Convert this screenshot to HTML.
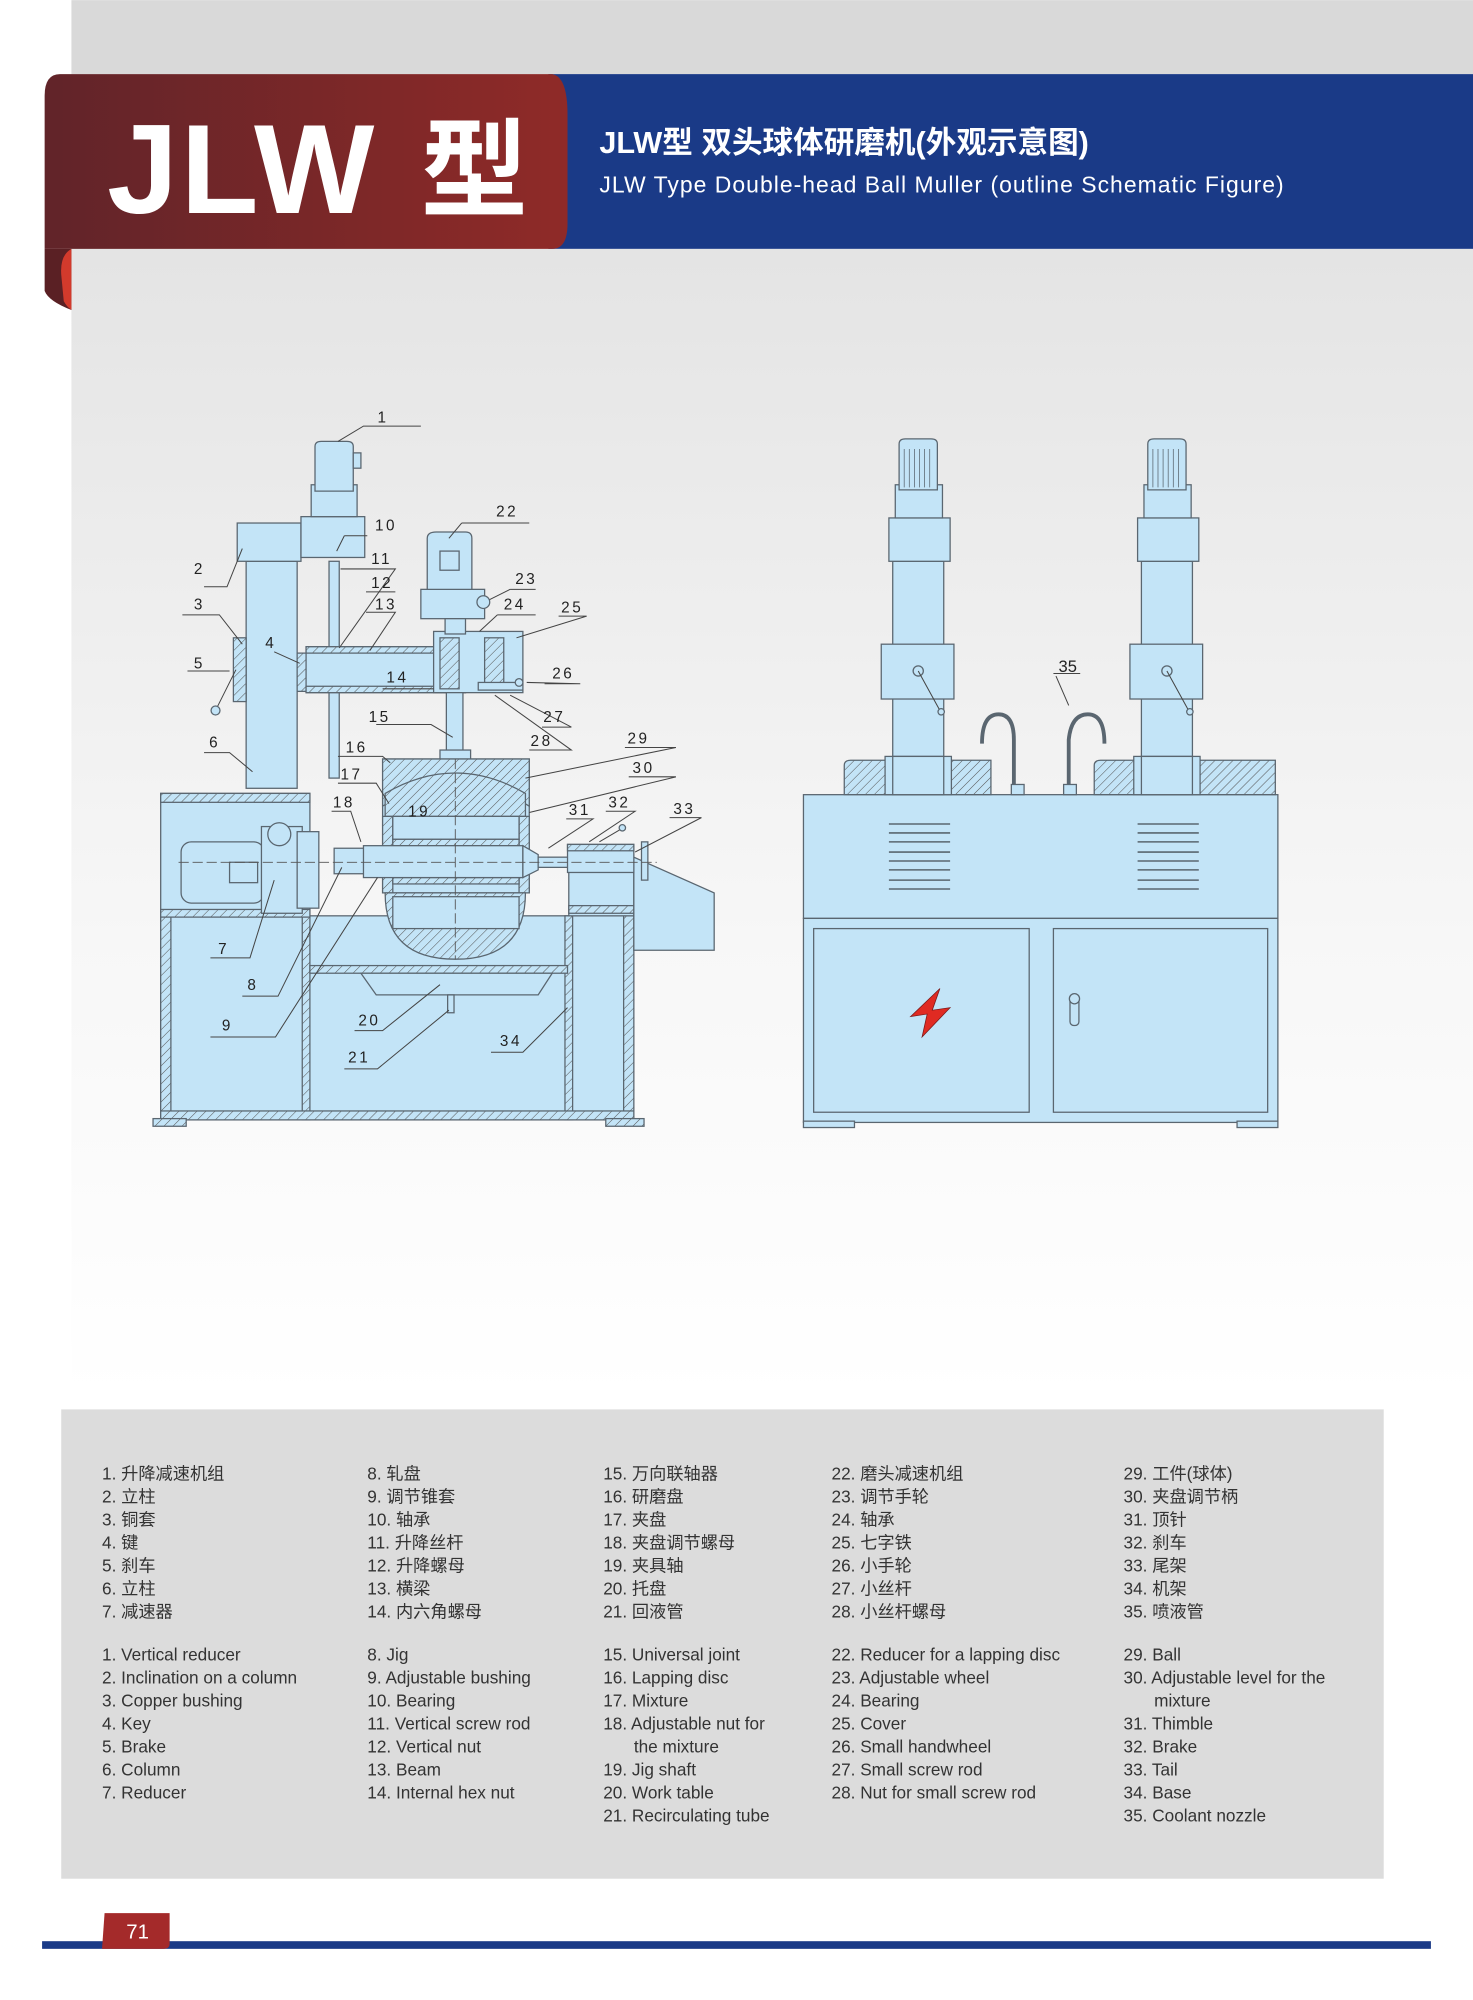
<!DOCTYPE html>
<html><head><meta charset="utf-8"><style>
html,body{margin:0;padding:0;background:#fff;}
svg{display:block}
text{font-family:"Liberation Sans","Noto Sans CJK SC",sans-serif;}
.lg{font-size:13.5px;fill:#333}
.n{font-family:"Liberation Serif","Noto Serif CJK SC",serif;font-size:12px;fill:#222;letter-spacing:2px}
.p{fill:#c3e4f7;stroke:#5a6670;stroke-width:1}
.h{fill:url(#hat);stroke:#5a6670;stroke-width:1}
.l{stroke:#444;stroke-width:0.8;fill:none}
</style></head><body>
<svg width="1473" height="2000" viewBox="0 0 1155 1568" xmlns="http://www.w3.org/2000/svg">
<defs>
<linearGradient id="bg" x1="0" y1="0" x2="0" y2="1"><stop offset="0" stop-color="#e4e4e4"/><stop offset="0.6" stop-color="#f7f7f7"/><stop offset="1" stop-color="#ffffff"/></linearGradient>
<linearGradient id="red" x1="0" y1="0" x2="1" y2="0"><stop offset="0" stop-color="#612429"/><stop offset="1" stop-color="#8f2a28"/></linearGradient>
<pattern id="hat" width="5" height="5" patternUnits="userSpaceOnUse" patternTransform="rotate(45)"><rect width="5" height="5" fill="#c3e4f7"/><line x1="0" y1="0" x2="0" y2="5" stroke="#555" stroke-width="0.8"/></pattern>
</defs>
<rect x="56" y="195" width="1099" height="900" fill="url(#bg)"/>
<rect x="56" y="0" width="1099" height="58" fill="#d9d9d9"/>
<rect x="430" y="58" width="725" height="137" fill="#1a3a87"/>
<path d="M35 195 L35 228 Q38 236 56 243 L56 195 Z" fill="#5a2024"/>
<path d="M56 195 Q47 200 48 215 L50 236 Q52 240 56 243 Z" fill="#d23a2c"/>
<path d="M47 58 H433 Q445 60 445 90 V175 Q445 195 433 195 H35 V75 Q35 58 47 58Z" fill="url(#red)"/>
<text x="84" y="167" font-size="100" font-weight="bold" fill="#fff" letter-spacing="2">JLW</text>
<text x="330" y="163" font-size="84" font-weight="bold" fill="#fff">型</text>
<text x="470" y="120" font-size="24" font-weight="bold" fill="#fff">JLW型 双头球体研磨机(外观示意图)</text>
<text x="470" y="151" font-size="18" fill="#fff" letter-spacing="0.8">JLW Type Double-head  Ball  Muller (outline Schematic Figure)</text>

<!-- LEFT DIAGRAM -->
<g>
<rect class="p" x="126" y="718" width="371" height="160"/>
<rect class="h" x="126" y="718" width="8" height="160"/><rect class="h" x="237" y="718" width="6" height="160"/>
<rect class="h" x="443" y="718" width="6" height="160"/><rect class="h" x="489" y="718" width="8" height="160"/>
<rect class="h" x="126" y="871" width="371" height="7"/>
<rect class="h" x="120" y="877" width="26" height="6"/><rect class="h" x="475" y="877" width="30" height="6"/>
<rect class="p" x="126" y="622" width="117" height="96"/><rect class="h" x="126" y="622" width="117" height="7"/><rect class="h" x="126" y="713" width="117" height="6"/>
<rect class="h" x="243" y="757" width="202" height="6"/>
<path class="p" d="M283 763 L433 763 L422 780 L295 780Z"/>
<rect class="p" x="351" y="780" width="5" height="14"/>
<rect class="p" x="446" y="670" width="51" height="48"/><rect class="h" x="446" y="710" width="51" height="6"/>
<path class="p" d="M497 672 L560 700 L560 745 L497 745Z"/>
<rect class="p" x="142" y="660" width="65" height="48" rx="8"/><rect class="p" x="180" y="676" width="22" height="16"/>
<rect class="p" x="205" y="648" width="32" height="68"/><circle cx="219" cy="654" r="9" class="p"/>
<rect class="p" x="233" y="652" width="17" height="60"/>
<rect class="p" x="193" y="440" width="40" height="178"/>
<rect class="h" x="183" y="500" width="10" height="50"/>
<line class="l" x1="185" y1="525" x2="170" y2="555"/><circle cx="169" cy="557" r="3.5" class="p"/>
<rect class="h" x="233" y="512" width="8" height="30"/>
<rect class="p" x="186" y="410" width="50" height="30"/><rect class="p" x="236" y="405" width="50" height="32"/>
<rect class="p" x="244" y="380" width="36" height="25"/>
<path class="p" d="M247 385 V350 Q247 346 252 346 H272 Q277 346 277 350 V385Z"/>
<rect class="p" x="277" y="355" width="6" height="12"/>
<rect class="p" x="258" y="440" width="8" height="170"/>
<rect class="p" x="240" y="507" width="125" height="36"/><rect class="h" x="240" y="507" width="125" height="5"/><rect class="h" x="240" y="538" width="125" height="5"/>
<rect class="p" x="340" y="495" width="70" height="48"/><rect class="h" x="345" y="500" width="15" height="40"/><rect class="h" x="380" y="500" width="15" height="40"/>
<rect class="p" x="375" y="535" width="35" height="6"/><circle cx="407" cy="535" r="3" class="p"/>
<rect class="p" x="330" y="462" width="50" height="23"/><circle cx="379" cy="472" r="5" class="p"/>
<path class="p" d="M335 462 V422 Q335 417 342 417 H365 Q370 417 370 422 V462Z"/><rect class="p" x="345" y="432" width="15" height="15"/>
<rect class="p" x="349" y="485" width="16" height="12"/>
<rect class="p" x="350" y="543" width="13" height="50"/><rect class="p" x="345" y="588" width="24" height="8"/>
<rect class="p" x="300" y="595" width="115" height="105"/>
<path class="h" d="M300 595 H415 V632 Q357 595 300 632Z"/>
<path class="h" d="M302 622 Q357 590 412 622 L412 640 L302 640Z"/>
<path class="h" d="M300 640 H308 V700 H300Z"/><path class="h" d="M407 640 H415 V700 H407Z"/>
<rect class="p" x="308" y="640" width="99" height="18"/>
<rect class="h" x="308" y="658" width="99" height="5"/><rect class="h" x="308" y="688" width="99" height="5"/>
<path class="h" d="M302 700 H412 Q412 752 357 752 Q302 752 302 700Z"/>
<rect class="p" x="308" y="703" width="99" height="25"/>
<rect class="p" x="262" y="665" width="30" height="20"/><rect class="p" x="285" y="663" width="125" height="25"/>
<path class="p" d="M410 663 L422 670 V682 L410 688Z"/>
<rect class="p" x="422" y="672" width="30" height="8"/>
<rect class="p" x="445" y="662" width="52" height="22"/><rect class="h" x="445" y="662" width="52" height="5"/>
<line class="l" x1="470" y1="660" x2="487" y2="650"/><circle cx="488" cy="649" r="2.5" class="p"/>
<rect class="p" x="503" y="660" width="5" height="30"/>
<line stroke="#555" stroke-width="0.7" stroke-dasharray="8 3" x1="140" y1="676" x2="515" y2="676"/>
<line stroke="#555" stroke-width="0.7" stroke-dasharray="8 3" x1="357" y1="595" x2="357" y2="752"/>
</g>
<g class="l">
<path d="M265 346 L285 334 H330"/><path d="M160 460 H178 L190 430"/><path d="M143 482 H172 L190 505"/><path d="M147 526 H180"/>
<path d="M215 511 L235 520"/><path d="M160 590 H180 L198 605"/><path d="M270 420 H288 M270 420 L264 432"/>
<path d="M267 446 H310 L266 508"/><path d="M287 464 H310"/><path d="M287 480 H310 L290 510"/><path d="M300 540 H340"/>
<path d="M295 568 H338 L355 578"/><path d="M265 593 H300 L306 598"/><path d="M265 614 H295 L305 630"/><path d="M260 636 H275 L283 660"/>
<path d="M362 410 H415 M362 410 L352 422"/><path d="M400 462 H420 M400 462 L384 470"/><path d="M390 482 H420 M390 482 L376 495"/>
<path d="M438 483 H460 L405 500"/><path d="M427 536 H455 L413 535"/><path d="M425 570 H448 L400 545"/><path d="M415 588 H448 L388 545"/>
<path d="M490 586 H530 L412 610"/><path d="M493 609 H530 L415 637"/><path d="M444 642 H465 L430 665"/><path d="M475 636 H498 L462 660"/><path d="M525 641 H550 L498 668"/>
<path d="M165 751 H196 L215 690"/><path d="M190 781 H218 L268 680"/><path d="M165 813 H216 L296 688"/>
<path d="M278 808 H300 L345 772"/><path d="M270 838 H296 L352 792"/><path d="M385 825 H410 L445 790"/>
</g>
<g class="n">
<text x="296" y="331">1</text><text x="152" y="450">2</text><text x="152" y="478">3</text><text x="152" y="524">5</text><text x="208" y="508">4</text><text x="164" y="586">6</text>
<text x="294" y="416">10</text><text x="291" y="442">11</text><text x="291" y="461">12</text><text x="294" y="478">13</text><text x="303" y="535">14</text>
<text x="289" y="566">15</text><text x="271" y="590">16</text><text x="267" y="611">17</text><text x="261" y="633">18</text><text x="320" y="640">19</text>
<text x="389" y="405">22</text><text x="404" y="458">23</text><text x="395" y="478">24</text><text x="440" y="480">25</text><text x="433" y="532">26</text><text x="426" y="566">27</text><text x="416" y="585">28</text>
<text x="492" y="583">29</text><text x="496" y="606">30</text><text x="446" y="639">31</text><text x="477" y="633">32</text><text x="528" y="638">33</text>
<text x="171" y="748">7</text><text x="194" y="776">8</text><text x="174" y="808">9</text><text x="281" y="804">20</text><text x="273" y="833">21</text><text x="392" y="820">34</text>
</g>

<g>
<rect class="p" x="630" y="623" width="372" height="97"/>
<rect class="p" x="630" y="720" width="372" height="160"/>
<rect class="p" x="638" y="728" width="169" height="144"/><rect class="p" x="826" y="728" width="168" height="144"/>
<rect class="p" x="630" y="879" width="40" height="5"/><rect class="p" x="970" y="879" width="32" height="5"/>
<path d="M737 775 L714 797 L727 795 L723 813 L745 790 L731 792Z" fill="#e02a22" stroke="#7a1a1a" stroke-width="0.6"/>
<rect class="p" x="839" y="782" width="7" height="22" rx="3"/><circle cx="842.5" cy="783" r="4" class="p"/>
<g stroke="#5a6670" fill="none" stroke-width="1.2">
<path d="M697 646 H745 M697 653 H745 M697 660 H745 M697 668 H745 M697 675 H745 M697 682 H745 M697 690 H745 M697 697 H745"/>
<path d="M892 646 H940 M892 653 H940 M892 660 H940 M892 668 H940 M892 675 H940 M892 682 H940 M892 690 H940 M892 697 H940"/>
</g>
<path class="h" d="M662 623 V600 Q662 596 667 596 H777 V623Z"/>
<path class="h" d="M858 623 V600 Q858 596 863 596 H1000 V623Z"/>
<g stroke="#5a6670" fill="none" stroke-width="3"><path d="M770 583 Q770 560 783 560 Q795 560 795 580 V620"/><path d="M866 583 Q866 560 853 560 Q840 560 838 580 V620"/></g>
<rect class="p" x="793" y="615" width="10" height="8"/><rect class="p" x="834" y="615" width="10" height="8"/>
<g id="col">
<rect class="p" x="700" y="440" width="40" height="183"/>
<rect class="p" x="694" y="593" width="52" height="30"/><rect class="p" x="700" y="593" width="40" height="30"/>
<rect class="p" x="691" y="505" width="57" height="43"/>
<circle cx="720" cy="526" r="4" class="p"/><line class="l" x1="720" y1="526" x2="737" y2="557"/><circle cx="738" cy="558" r="2.5" class="p"/>
<rect class="p" x="697" y="406" width="48" height="34"/>
<rect class="p" x="702" y="380" width="37" height="26"/>
<path class="p" d="M705 384 V348 Q705 344 710 344 H730 Q735 344 735 348 V384Z"/>
<path stroke="#5a6670" stroke-width="0.6" d="M709 352 V382 M713 352 V382 M717 352 V382 M721 352 V382 M725 352 V382 M729 352 V382"/>
</g>
<use href="#col" transform="translate(195,0)"/>
<path class="l" d="M826 528 H847 M828 530 L838 553"/>
<text x="830" y="527" font-size="13" fill="#222" font-family="Liberation Sans">35</text>
</g>

<rect x="48" y="1105" width="1037" height="368" fill="#dcdcdc"/>
<g class="lg">
<text x="80" y="1160">1. 升降减速机组</text><text x="80" y="1178">2. 立柱</text><text x="80" y="1196">3. 铜套</text><text x="80" y="1214">4. 键</text><text x="80" y="1232">5. 刹车</text><text x="80" y="1250">6. 立柱</text><text x="80" y="1268">7. 减速器</text>
<text x="288" y="1160">8. 轧盘</text><text x="288" y="1178">9. 调节锥套</text><text x="288" y="1196">10. 轴承</text><text x="288" y="1214">11. 升降丝杆</text><text x="288" y="1232">12. 升降螺母</text><text x="288" y="1250">13. 横梁</text><text x="288" y="1268">14. 内六角螺母</text>
<text x="473" y="1160">15. 万向联轴器</text><text x="473" y="1178">16. 研磨盘</text><text x="473" y="1196">17. 夹盘</text><text x="473" y="1214">18. 夹盘调节螺母</text><text x="473" y="1232">19. 夹具轴</text><text x="473" y="1250">20. 托盘</text><text x="473" y="1268">21. 回液管</text>
<text x="652" y="1160">22. 磨头减速机组</text><text x="652" y="1178">23. 调节手轮</text><text x="652" y="1196">24. 轴承</text><text x="652" y="1214">25. 七字铁</text><text x="652" y="1232">26. 小手轮</text><text x="652" y="1250">27. 小丝杆</text><text x="652" y="1268">28. 小丝杆螺母</text>
<text x="881" y="1160">29. 工件(球体)</text><text x="881" y="1178">30. 夹盘调节柄</text><text x="881" y="1196">31. 顶针</text><text x="881" y="1214">32. 刹车</text><text x="881" y="1232">33. 尾架</text><text x="881" y="1250">34. 机架</text><text x="881" y="1268">35. 喷液管</text>
<text x="80" y="1302">1. Vertical reducer</text><text x="80" y="1320">2. Inclination on a column</text><text x="80" y="1338">3. Copper bushing</text><text x="80" y="1356">4. Key</text><text x="80" y="1374">5. Brake</text><text x="80" y="1392">6. Column</text><text x="80" y="1410">7. Reducer</text>
<text x="288" y="1302">8. Jig</text><text x="288" y="1320">9. Adjustable bushing</text><text x="288" y="1338">10. Bearing</text><text x="288" y="1356">11. Vertical screw rod</text><text x="288" y="1374">12. Vertical nut</text><text x="288" y="1392">13. Beam</text><text x="288" y="1410">14. Internal hex nut</text>
<text x="473" y="1302">15. Universal joint</text><text x="473" y="1320">16. Lapping disc</text><text x="473" y="1338">17. Mixture</text><text x="473" y="1356">18. Adjustable nut for</text><text x="497" y="1374">the mixture</text><text x="473" y="1392">19. Jig shaft</text><text x="473" y="1410">20. Work table</text><text x="473" y="1428">21. Recirculating tube</text>
<text x="652" y="1302">22. Reducer for a lapping disc</text><text x="652" y="1320">23. Adjustable wheel</text><text x="652" y="1338">24. Bearing</text><text x="652" y="1356">25. Cover</text><text x="652" y="1374">26. Small handwheel</text><text x="652" y="1392">27. Small screw rod</text><text x="652" y="1410">28. Nut for small screw rod</text>
<text x="881" y="1302">29. Ball</text><text x="881" y="1320">30. Adjustable level for the</text><text x="905" y="1338">mixture</text><text x="881" y="1356">31. Thimble</text><text x="881" y="1374">32. Brake</text><text x="881" y="1392">33. Tail</text><text x="881" y="1410">34. Base</text><text x="881" y="1428">35. Coolant nozzle</text>
</g>
<rect x="33" y="1522" width="1089" height="6" fill="#1a3a87"/>
<path d="M82 1500 H133 V1524 Q133 1528 128 1528 H80Z" fill="#a42a2a"/>
<text x="99" y="1520" font-size="16" fill="#fff">71</text>
</svg>
</body></html>
